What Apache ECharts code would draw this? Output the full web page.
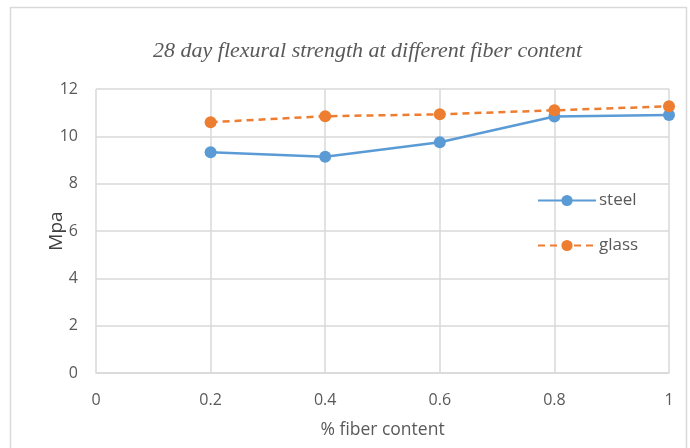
<!DOCTYPE html>
<html>
<head>
<meta charset="utf-8">
<script src="https://cdn.jsdelivr.net/npm/echarts@6/dist/echarts.min.js"></script>
<style>
  html, body { margin: 0; padding: 0; background: #fff; }
  #chart { width: 690px; height: 448px; }
</style>
</head>
<body>
<div id="chart"></div>
<script>
// Fiber content (%) and 28-day flexural strength (MPa)
const fiberContent = [0.2, 0.4, 0.6, 0.8, 1.0];
const steelStrength = [9.33, 9.14, 9.75, 10.84, 10.9];
const glassStrength = [10.6, 10.85, 10.93, 11.1, 11.27];
const seriesNames = ['steel', 'glass'];

const toPairs = (xs, ys) => xs.map((x, i) => [x, ys[i]]);

const gray = '#595959';
const gridColor = '#d9d9d9';

const chart = echarts.init(document.getElementById('chart'));
chart.setOption({
  animation: false,
  backgroundColor: '#fff',
  graphic: [{
    type: 'rect',
    shape: { x: 10.5, y: 7.5, width: 676, height: 460 },
    style: { fill: 'none', stroke: gridColor, lineWidth: 1.5 },
    silent: true
  }],
  title: {
    text: '28 day flexural strength at different fiber content',
    left: 148,
    top: 35,
    textStyle: {
      fontFamily: 'Liberation Serif',
      fontStyle: 'italic',
      fontWeight: 'normal',
      fontSize: 22,
      color: gray
    }
  },
  legend: {
    orient: 'vertical',
    left: 532,
    top: 187,
    itemWidth: 58,
    itemHeight: 14,
    itemGap: 28,
    textStyle: { fontFamily: 'Open Sans', fontSize: 17, color: gray, padding: [0, 0, 0, -2] },
    data: seriesNames
  },
  grid: { left: 96, right: 21, top: 89, bottom: 75 },
  xAxis: {
    type: 'value',
    min: 0, max: 1, interval: 0.2,
    name: '% fiber content',
    nameLocation: 'middle',
    nameGap: 48,
    nameMoveOverlap: false,
    nameTextStyle: { fontFamily: 'Open Sans', fontSize: 17.5, color: gray },
    axisLine: { show: true, lineStyle: { color: gridColor, width: 1.5 } },
    axisTick: { show: false },
    axisLabel: {
      fontFamily: 'Open Sans', fontSize: 16, color: gray, margin: 19,
      formatter: v => String(+v.toFixed(1))
    },
    splitLine: { show: true, lineStyle: { color: gridColor, width: 1.5 } }
  },
  yAxis: {
    type: 'value',
    min: 0, max: 12, interval: 2,
    name: 'Mpa',
    nameLocation: 'middle',
    nameGap: 30,
    nameMoveOverlap: false,
    nameTextStyle: { fontFamily: 'Open Sans', fontSize: 19, color: '#404040' },
    axisLine: { show: false },
    axisTick: { show: false },
    axisLabel: { fontFamily: 'Open Sans', fontSize: 16, color: gray, margin: 18 },
    splitLine: { show: true, lineStyle: { color: gridColor, width: 1.5 } }
  },
  series: [
    {
      name: seriesNames[0],
      type: 'line',
      data: toPairs(fiberContent, steelStrength),
      symbol: 'circle',
      symbolSize: 12,
      color: '#5b9bd5',
      lineStyle: { width: 2.5, color: '#5b9bd5' },
      itemStyle: { color: '#5b9bd5' }
    },
    {
      name: seriesNames[1],
      type: 'line',
      data: toPairs(fiberContent, glassStrength),
      symbol: 'circle',
      symbolSize: 12,
      color: '#ed7d31',
      lineStyle: { width: 2.5, type: [7, 5], color: '#ed7d31' },
      itemStyle: { color: '#ed7d31' }
    }
  ]
});
</script>
</body>
</html>
